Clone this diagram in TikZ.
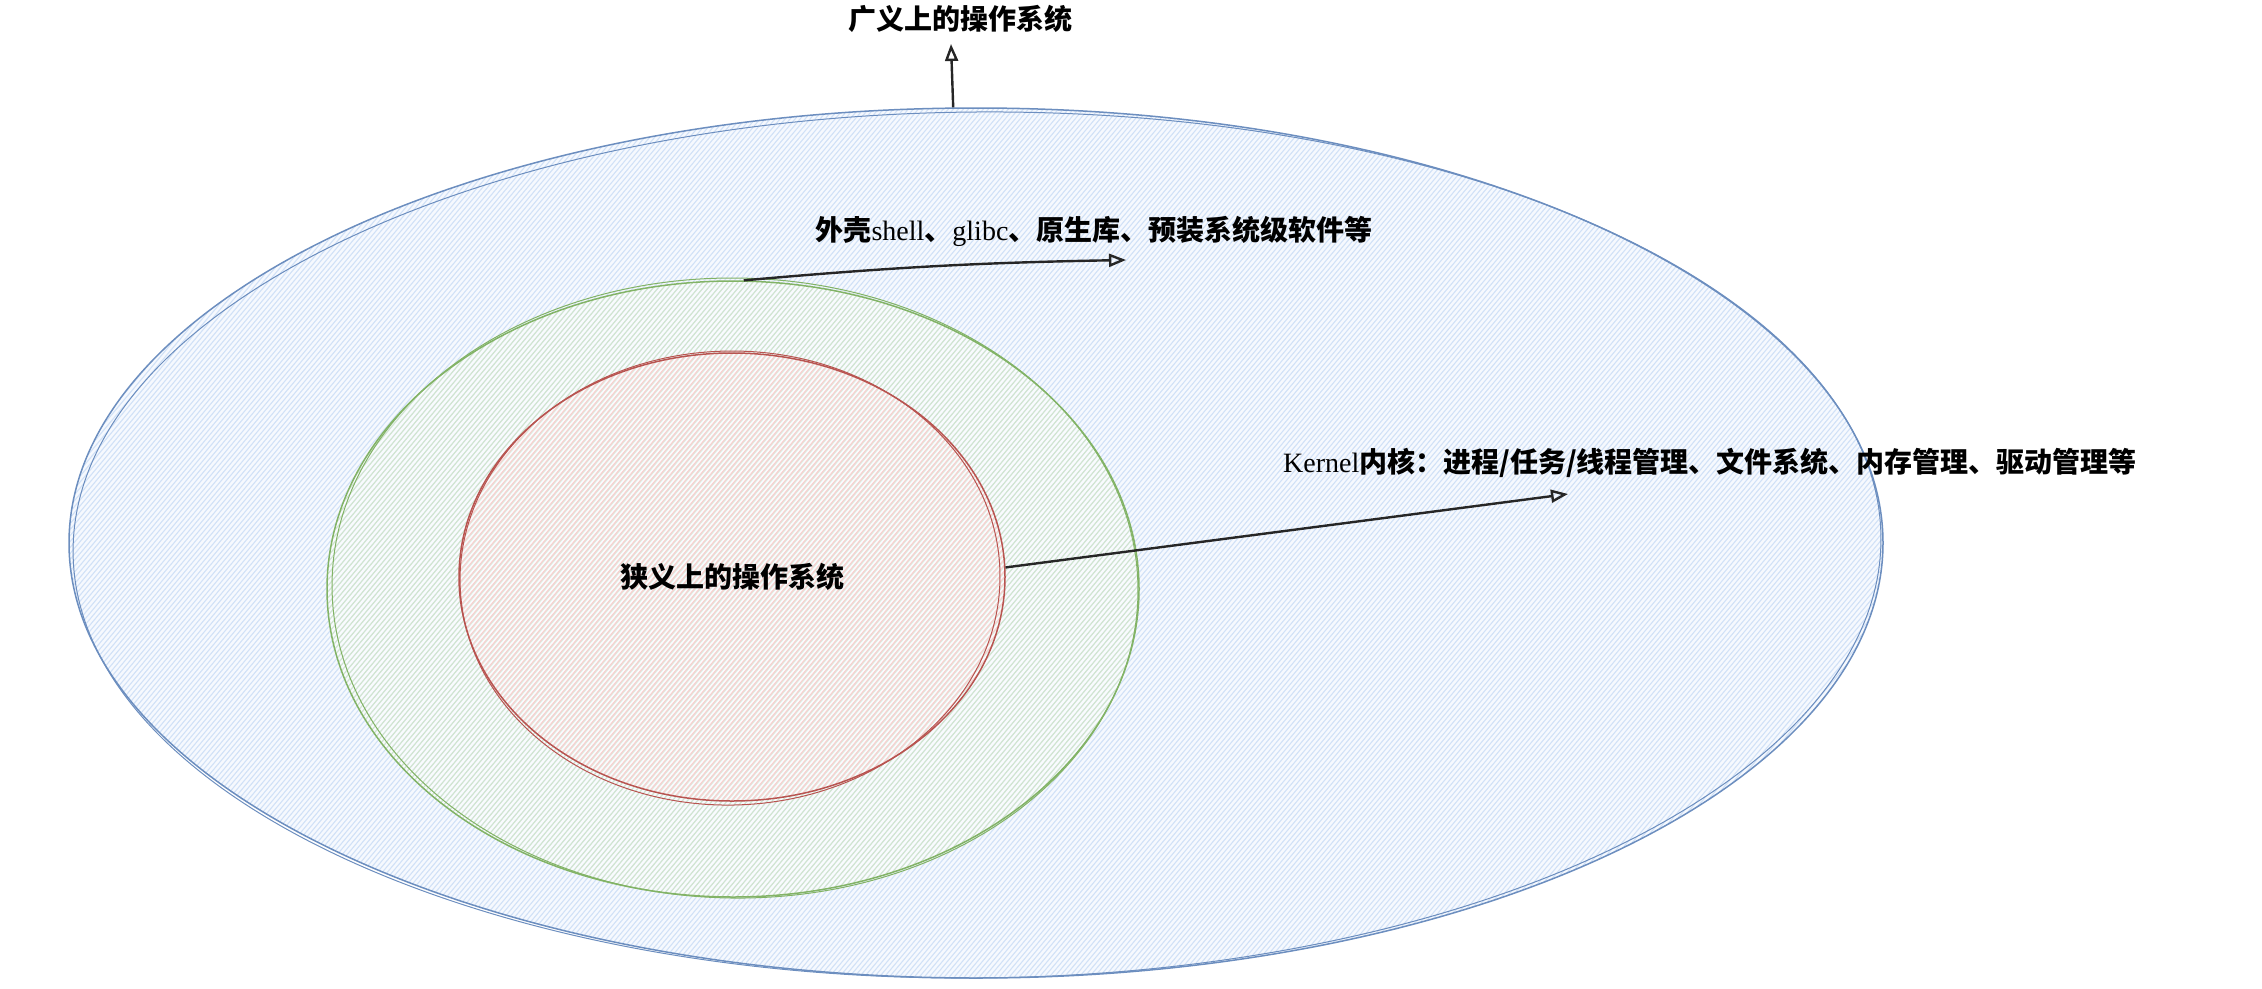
\documentclass[tikz,border=0pt]{standalone}
\usepackage{fontspec}
\usetikzlibrary{shapes.geometric,arrows.meta}
\newfontfamily\cjk{Noto Sans CJK SC}
\newfontfamily\lser{Liberation Serif}
\definecolor{bluestroke}{HTML}{6C8EBF}
\definecolor{bluefill}{HTML}{DAE8FC}
\definecolor{greenstroke}{HTML}{82B366}
\definecolor{greenfill}{HTML}{D5E8D4}
\definecolor{redstroke}{HTML}{B85450}
\definecolor{redfill}{HTML}{F8CECC}
\newcommand\en[1]{{\lser\mdseries #1}}
% hachure: cx cy rx ry colour start second end
\newcommand\hachure[8]{%
  \begin{scope}
    \clip (#1,#2) ellipse [x radius=#3, y radius=#4];
    \foreach \i in {#6,#7,...,#8}
      \draw[#5, line width=1.1pt] (\i,1000) -- ++(840,-1000);
  \end{scope}}
\tikzset{
  lbl/.style={font=\cjk\bfseries\fontsize{28pt}{34pt}\selectfont, inner sep=2pt},
  oval/.style={ellipse, inner sep=0pt, line width=1.5pt},
  sketch/.style={line width=1pt},
  arr/.style={draw=black!85, line width=2.4pt, -{Triangle[open,length=17pt,width=13pt]}}
}
\begin{document}
\begin{tikzpicture}[x=1pt,y=-1pt]
\useasboundingbox (0,0) rectangle (2262,988);
% fills
\fill[bluefill!25!white] (976,543) ellipse [x radius=907, y radius=435];
\hachure{976}{543}{907}{435}{bluefill!92!bluestroke}{-690}{-685}{1870}
\fill[white, opacity=0.35] (733,589) ellipse [x radius=406, y radius=308];
\hachure{733}{589}{406}{308}{greenfill!95!greenstroke}{-280}{-275}{1060}
\fill[white, opacity=0.3] (732,577) ellipse [x radius=273, y radius=224];
\hachure{732}{577}{273}{224}{redfill!95!white}{-86}{-81}{840}
% outlines
\node[oval, draw=bluestroke, minimum width=1814pt, minimum height=870pt] (blue) at (976,543) {};
\draw[sketch, bluestroke, rotate around={0.5:(976,543)}] (977,545) ellipse [x radius=904, y radius=433];
\node[oval, draw=greenstroke, minimum width=812pt, minimum height=616pt] (green) at (733,589) {};
\draw[sketch, greenstroke, rotate around={-0.8:(733,589)}] (735,588) ellipse [x radius=403, y radius=310];
\node[oval, draw=redstroke, minimum width=546pt, minimum height=448pt, lbl] (red) at (732,577) {狭义上的操作系统};
\draw[sketch, redstroke, rotate around={1.2:(732,577)}] (730,578) ellipse [x radius=270, y radius=227];
% labels
\node[lbl] (title) at (960,19) {广义上的操作系统};
\node[lbl] (shell) at (1094,231) {外壳\en{shell}、\en{glibc}、原生库、预装系统级软件等};
\node[lbl] (kernel) at (1710,463) {\en{Kernel}内核：进程/任务/线程管理、文件系统、内存管理、驱动管理等};
% arrow ends
\coordinate (tTop) at (951,44);
\coordinate (tShell) at (1126,260);
\coordinate (tKernel) at (1568,494);
\draw[arr] (blue.93.2) -- (tTop);
\draw[arr] (green.88) to[bend left=2] (tShell);
\draw[arr] (red.2) -- (tKernel);
\end{tikzpicture}
\end{document}
